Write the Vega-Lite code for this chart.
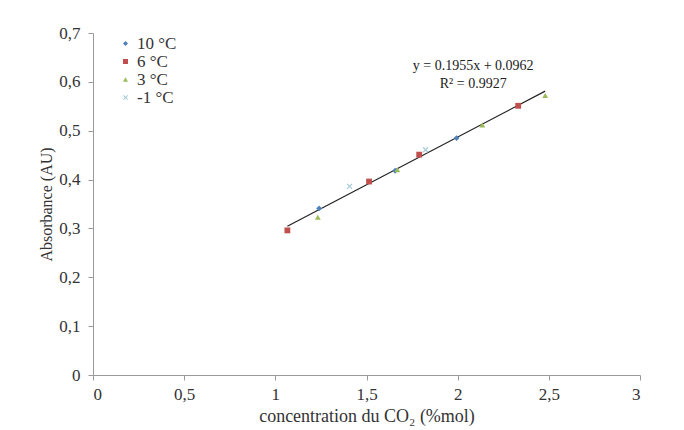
{
  "$schema": "https://vega.github.io/schema/vega-lite/v6.json",
  "width": 547,
  "height": 342,
  "autosize": {"type": "none"},
  "padding": {"left": 93, "top": 33, "right": 44, "bottom": 55},
  "background": "white",
  "config": {"view": {"stroke": null}, "font": "Liberation Serif"},
  "encoding": {
    "x": {
      "field": "x", "type": "quantitative",
      "scale": {"domain": [0, 3], "nice": false},
      "axis": {
        "values": [0, 0.5, 1, 1.5, 2, 2.5, 3],
        "labelExpr": "replace(format(datum.value, '~g'), '.', ',')",
        "grid": false, "domainColor": "#9a9a9a", "tickColor": "#9a9a9a", "tickSize": 5,
        "labelFontSize": 17, "labelColor": "#333", "labelPadding": 6,
        "title": "concentration du CO₂ (%mol)", "titleFontSize": 18, "titleFontWeight": "normal",
        "titleColor": "#333", "titlePadding": 5
      }
    },
    "y": {
      "field": "y", "type": "quantitative",
      "scale": {"domain": [0, 0.7], "nice": false},
      "axis": {
        "values": [0, 0.1, 0.2, 0.3, 0.4, 0.5, 0.6, 0.7],
        "labelExpr": "replace(format(datum.value, '~g'), '.', ',')",
        "grid": false, "domainColor": "#9a9a9a", "tickColor": "#9a9a9a", "tickSize": 5,
        "labelFontSize": 17, "labelColor": "#333", "labelPadding": 8,
        "title": "Absorbance (AU)", "titleFontSize": 16, "titleFontWeight": "normal",
        "titleColor": "#333", "titlePadding": 4
      }
    }
  },
  "layer": [
    {
      "data": {"values": [{"x": 1.066, "y": 0.3046}, {"x": 2.48, "y": 0.581}]},
      "mark": {"type": "line", "color": "#222", "strokeWidth": 1.2}
    },
    {
      "data": {"values": [
        {"x": 1.24, "y": 0.341, "serie": "10 °C"},
        {"x": 1.657, "y": 0.418, "serie": "10 °C"},
        {"x": 1.994, "y": 0.485, "serie": "10 °C"},
        {"x": 1.066, "y": 0.296, "serie": "6 °C"},
        {"x": 1.514, "y": 0.396, "serie": "6 °C"},
        {"x": 1.789, "y": 0.451, "serie": "6 °C"},
        {"x": 2.332, "y": 0.551, "serie": "6 °C"},
        {"x": 1.233, "y": 0.323, "serie": "3 °C"},
        {"x": 1.669, "y": 0.42, "serie": "3 °C"},
        {"x": 2.135, "y": 0.512, "serie": "3 °C"},
        {"x": 2.48, "y": 0.572, "serie": "3 °C"},
        {"x": 1.407, "y": 0.386, "serie": "-1 °C"},
        {"x": 1.824, "y": 0.461, "serie": "-1 °C"}
      ]},
      "mark": {"type": "point", "filled": true, "opacity": 1, "size": 34},
      "encoding": {
        "color": {
          "field": "serie", "type": "nominal",
          "scale": {"domain": ["10 °C", "6 °C", "3 °C", "-1 °C"], "range": ["#4F81BD", "#C0504D", "#9BBB59", "#A8CCD8"]},
          "legend": {
            "title": null, "orient": "none", "legendX": 24, "legendY": 2,
            "labelFontSize": 17, "labelColor": "#333", "symbolSize": 25, "rowPadding": 0,
            "labelOffset": 3, "symbolOffset": 0
          }
        },
        "shape": {
          "field": "serie", "type": "nominal",
          "scale": {"domain": ["10 °C", "6 °C", "3 °C", "-1 °C"], "range": ["diamond", "square", "triangle-up", "M-1,-0.7L-0.7,-1L0,-0.3L0.7,-1L1,-0.7L0.3,0L1,0.7L0.7,1L0,0.3L-0.7,1L-1,0.7L-0.3,0Z"]},
          "legend": null
        }
      }
    },
    {
      "data": {"values": [
        {"x": 2.085, "y": 0.632, "label": "y = 0.1955x + 0.0962"},
        {"x": 2.085, "y": 0.596, "label": "R² = 0.9927"}
      ]},
      "mark": {"type": "text", "fontSize": 14, "color": "#222"},
      "encoding": {"text": {"field": "label"}}
    }
  ]
}
